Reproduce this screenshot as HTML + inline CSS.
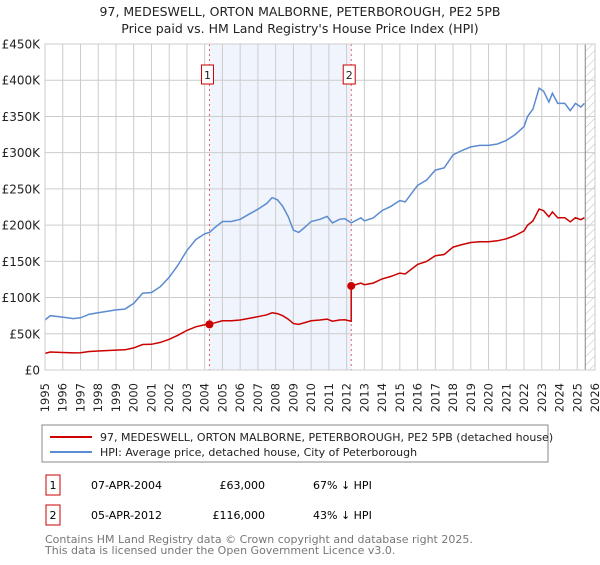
<!DOCTYPE html>
<html><head><meta charset="utf-8"><style>
body{margin:0;background:#fff;width:600px;height:560px;overflow:hidden;font-family:"Liberation Sans","DejaVu Sans",sans-serif}
svg text{font-family:"DejaVu Sans","Liberation Sans",sans-serif}
</style></head><body>
<svg id="c" width="600" height="560" xmlns="http://www.w3.org/2000/svg">
<defs><pattern id="hatch" width="6" height="6" patternUnits="userSpaceOnUse" patternTransform="rotate(45)"><line x1="0" y1="0" x2="0" y2="6" stroke="#bbb" stroke-width="1"/></pattern></defs>
<text x="300" y="16" text-anchor="middle" font-size="12.5" fill="#222">97, MEDESWELL, ORTON MALBORNE, PETERBOROUGH, PE2 5PB</text>
<text x="300" y="33" text-anchor="middle" font-size="12.5" fill="#222">Price paid vs. HM Land Registry's House Price Index (HPI)</text>
<g id="plot"></g>
<rect x="42" y="425" width="506" height="37" fill="none" stroke="#888"/>
<line x1="50" y1="437" x2="92" y2="437" stroke="#cc0000" stroke-width="2"/>
<text x="100" y="441" font-size="11" fill="#222">97, MEDESWELL, ORTON MALBORNE, PETERBOROUGH, PE2 5PB (detached house)</text>
<line x1="50" y1="452" x2="92" y2="452" stroke="#5b8bd0" stroke-width="2"/>
<text x="100" y="456" font-size="11" fill="#222">HPI: Average price, detached house, City of Peterborough</text>
<g>
<rect x="46" y="475" width="14" height="20" fill="#fff" stroke="#cc0000"/><text x="53" y="489" text-anchor="middle" font-size="11">1</text>
<text x="91" y="489" font-size="11">07-APR-2004</text><text x="265" y="489" text-anchor="end" font-size="11">£63,000</text><text x="313" y="489" font-size="11">67% ↓ HPI</text></g>
<g>
<rect x="46" y="505" width="14" height="20" fill="#fff" stroke="#cc0000"/><text x="53" y="519" text-anchor="middle" font-size="11">2</text>
<text x="91" y="519" font-size="11">05-APR-2012</text><text x="265" y="519" text-anchor="end" font-size="11">£116,000</text><text x="313" y="519" font-size="11">43% ↓ HPI</text></g>
<text x="45" y="543" font-size="11" fill="#777">Contains HM Land Registry data © Crown copyright and database right 2025.</text>
<text x="45" y="554" font-size="11" fill="#777">This data is licensed under the Open Government Licence v3.0.</text>
</svg>
<script>
const yTicks=[0,50000,100000,150000,200000,250000,300000,350000,400000,450000];
const yTickLabels=["£0","£50K","£100K","£150K","£200K","£250K","£300K","£350K","£400K","£450K"];
const xYears=[1995,1996,1997,1998,1999,2000,2001,2002,2003,2004,2005,2006,2007,2008,2009,2010,2011,2012,2013,2014,2015,2016,2017,2018,2019,2020,2021,2022,2023,2024,2025,2026];
const hpiDates=[1995,1995.3,1996,1996.6,1997,1997.5,1998,1999,1999.5,2000,2000.5,2001,2001.5,2002,2002.5,2003,2003.5,2004,2004.27,2004.5,2005,2005.5,2006,2006.5,2007,2007.5,2007.8,2008.1,2008.4,2008.7,2009,2009.3,2009.6,2010,2010.5,2010.9,2011.2,2011.6,2011.9,2012.26,2012.8,2013,2013.5,2014,2014.5,2015,2015.3,2016,2016.5,2017,2017.5,2018,2018.5,2019,2019.5,2020,2020.5,2021,2021.5,2022,2022.2,2022.5,2022.85,2023.1,2023.4,2023.6,2023.9,2024.3,2024.6,2024.9,2025.2,2025.4];
const hpiValues=[69000,75000,73000,71000,72000,77000,79000,83000,84000,92000,106000,107000,115000,128000,145000,165000,180000,188000,190000,195000,205000,205000,208000,215000,222000,230000,238000,235000,226000,212000,193000,190000,196000,205000,208000,212000,203000,208000,209000,203000,210000,206000,210000,220000,226000,234000,232000,255000,262000,276000,279000,297000,303000,308000,310000,310000,312000,317000,325000,336000,350000,360000,389000,385000,370000,382000,368000,368000,358000,368000,363000,368000];
const saleDates=[2004.27,2012.26];
const salePrices=[63000,116000];
const saleLabels=["1","2"];
const NS="http://www.w3.org/2000/svg";
const X0=45,X1=595,Y0=370,Y1=44;
const xS=v=>X0+(v-1995)/(2026-1995)*(X1-X0);
const yS=v=>Y0-v/450000*(Y0-Y1);
const g=document.getElementById('plot');
function mk(t,a){const e=document.createElementNS(NS,t);for(const k in a)e.setAttribute(k,a[k]);g.appendChild(e);return e;}
function hpiAt(d){for(let i=1;i<hpiDates.length;i++){if(d<=hpiDates[i]){const t=(d-hpiDates[i-1])/(hpiDates[i]-hpiDates[i-1]);return hpiValues[i-1]+t*(hpiValues[i]-hpiValues[i-1]);}}return hpiValues[hpiValues.length-1];}
let r=mk('rect',{x:X0,y:Y1,width:X1-X0,height:Y0-Y1,fill:'#fff'});


let sh=mk('rect',{x:xS(saleDates[0]),y:Y1,width:xS(saleDates[1])-xS(saleDates[0]),height:Y0-Y1,fill:'#f0f4fc'});


const lastD=2025.45;
let ht=mk('rect',{x:xS(lastD),y:Y1,width:X1-xS(lastD),height:Y0-Y1,fill:'url(#hatch)'});


xYears.forEach(y=>{const l=mk('line',{x1:xS(y),x2:xS(y),y1:Y1,y2:Y0,stroke:'#ccc','stroke-width':1});


const t=mk('text',{transform:`translate(${xS(y)+4},${Y0+13}) rotate(-90)`,'text-anchor':'end','font-size':11.5,fill:'#222'});t.textContent=y;

});
yTicks.forEach((v,i)=>{const l=mk('line',{x1:X0,x2:X1,y1:yS(v),y2:yS(v),stroke:'#ccc','stroke-width':1});


const t=mk('text',{x:X0-5,y:yS(v)+4.5,'text-anchor':'end','font-size':12,fill:'#222'});t.textContent=yTickLabels[i];

});
let vl=mk('line',{x1:xS(lastD),x2:xS(lastD),y1:Y1,y2:Y0,stroke:'#888'});


saleDates.forEach((d,i)=>{const l=mk('line',{x1:xS(d),x2:xS(d),y1:Y1,y2:Y0,stroke:'#e06060','stroke-dasharray':'2,3'});

});
const hp=hpiDates.map((d,i)=>xS(d).toFixed(1)+','+yS(hpiValues[i]).toFixed(1)).join(' ');
let hl=mk('polyline',{points:hp,fill:'none',stroke:'#5b8bd0','stroke-width':1.5});


// property line: HPI scaled from most recent sale
const pts=[];
const r0=salePrices[0]/hpiAt(saleDates[0]);
hpiDates.forEach((d,i)=>{let k=r0;for(let s=0;s<saleDates.length;s++){if(d>=saleDates[s])k=salePrices[s]/hpiAt(saleDates[s]);}
if(i>0&&hpiDates[i-1]<saleDates[1]&&d>=saleDates[1]){pts.push([saleDates[1],hpiAt(saleDates[1])*(salePrices[0]/hpiAt(saleDates[0]))]);pts.push([saleDates[1],salePrices[1]]);}
pts.push([d,hpiValues[i]*k]);});
let pl=mk('polyline',{points:pts.map(p=>xS(p[0]).toFixed(1)+','+yS(p[1]).toFixed(1)).join(' '),fill:'none',stroke:'#cc0000','stroke-width':1.5});


saleDates.forEach((d,i)=>{const c=mk('circle',{cx:xS(d),cy:yS(salePrices[i]),r:4,fill:'#cc0000'});


const b=mk('rect',{x:xS(d)-8,y:65,width:12,height:19,fill:'#fff',stroke:'#cc0000'});


const t=mk('text',{x:xS(d)-2,y:79,'text-anchor':'middle','font-size':11,fill:'#222'});t.textContent=saleLabels[i];

});
let fr=mk('rect',{x:X0,y:Y1,width:X1-X0,height:Y0-Y1,fill:'none',stroke:'#ccc'});


</script>
</body></html>
